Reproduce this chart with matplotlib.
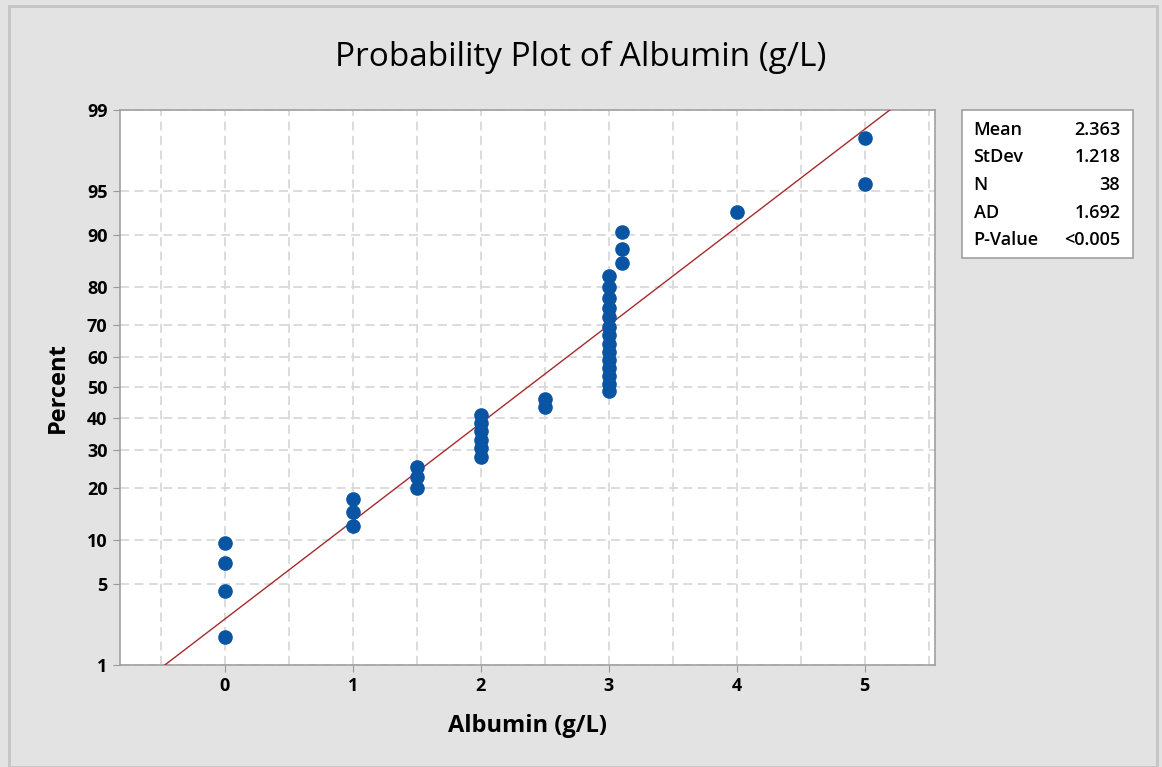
import numpy as np
import matplotlib
matplotlib.use("Agg")
from matplotlib import pyplot as plt
from matplotlib.patches import Rectangle
from statistics import NormalDist

# Albumin values (g/L), sorted, as they appear in the plot
values = [0] * 4 + [1] * 3 + [1.5] * 3 + [2] * 6 + [2.5] * 2 + [3] * 14 + [3.1] * 3 + [4] + [5] * 2
percent_ticks = [1, 5, 10, 20, 30, 40, 50, 60, 70, 80, 90, 95, 99]
x_ticks = [0, 1, 2, 3, 4, 5]
stats_names = ["Mean", "StDev", "N", "AD", "P-Value"]
stats_values = ["2.363", "1.218", "38", "1.692", "<0.005"]

nd = NormalDist()
_ppf = np.vectorize(lambda p: nd.inv_cdf(min(max(p / 100.0, 1e-9), 1 - 1e-9)), otypes=[float])
_cdf = np.vectorize(lambda z: nd.cdf(z) * 100.0, otypes=[float])


def forward(p):
    return _ppf(np.asarray(p, dtype=float))


def inverse(z):
    return _cdf(np.asarray(z, dtype=float))


x = np.array(values, dtype=float)
n = len(x)
ranks = np.arange(1, n + 1)
pct = (ranks - 0.3) / (n + 0.4) * 100  # median ranks
mean = x.mean()
sd = x.std(ddof=1)

plt.rcParams['font.family'] = ['Open Sans', 'DejaVu Sans']

fig = plt.figure(figsize=(11.62, 7.67), dpi=100, facecolor='#e3e3e3')
fig.patches.append(Rectangle((0.008, 0.0), 0.988, 0.992, transform=fig.transFigure,
                             fill=False, edgecolor='#c4c4c4', linewidth=2))
ax = fig.add_axes([0.1033, 0.133, 0.7014, 0.7236])
ax.set_yscale('function', functions=(forward, inverse))
ax.set_xlim(-0.82, 5.55)
ax.set_ylim(1, 99)

# fitted normal line
line_p = np.linspace(0.5, 99.5, 300)
line_x = mean + sd * forward(line_p)
ax.plot(line_x, line_p, color='#a82a2a', linewidth=1.0, zorder=3)

ax.plot(x, pct, 'o', color='#0a54a4', markersize=9.5, zorder=4)

ax.set_yticks(percent_ticks)
ax.set_yticklabels([str(t) for t in percent_ticks])
ax.yaxis.set_minor_locator(matplotlib.ticker.NullLocator())
ax.set_xticks(x_ticks)
ax.set_xticks(np.arange(-0.5, 5.6, 1.0), minor=True)
ax.tick_params(axis='x', which='minor', length=0)
ax.tick_params(which='major', length=5, color='#9a9a9a', labelsize=13, pad=4)
for lbl in ax.get_xticklabels() + ax.get_yticklabels():
    lbl.set_fontweight('bold')

ax.grid(True, which='both', linestyle=(0, (5, 3)), color='#d9d9d9', linewidth=1.3)
ax.set_axisbelow(True)
for s in ax.spines.values():
    s.set_color('#a0a0a0')
    s.set_linewidth(1.2)

ax.set_xlabel("Albumin (g/L)", fontsize=17, fontweight='bold', labelpad=13)
ax.set_ylabel("Percent", fontsize=17, fontweight='bold', labelpad=12)
fig.text(0.5, 0.925, "Probability Plot of Albumin (g/L)", fontsize=24,
         ha='center', va='center')

# statistics box
bx0, bx1 = 962 / 1162, 1133 / 1162
by1, by0 = 1 - 110 / 767, 1 - 258 / 767
fig.patches.append(Rectangle((bx0, by0), bx1 - bx0, by1 - by0, transform=fig.transFigure,
                             facecolor='white', edgecolor='#a0a0a0', linewidth=1.2))
for i, (name, val) in enumerate(zip(stats_names, stats_values)):
    yy = 1 - (130 + i * 27.5) / 767
    fig.text(bx0 + 0.01, yy, name, fontsize=13, fontweight='semibold', ha='left', va='center')
    fig.text(bx1 - 0.011, yy, val, fontsize=13, fontweight='semibold', ha='right', va='center')

fig.savefig("out.png", dpi=100, facecolor=fig.get_facecolor())
